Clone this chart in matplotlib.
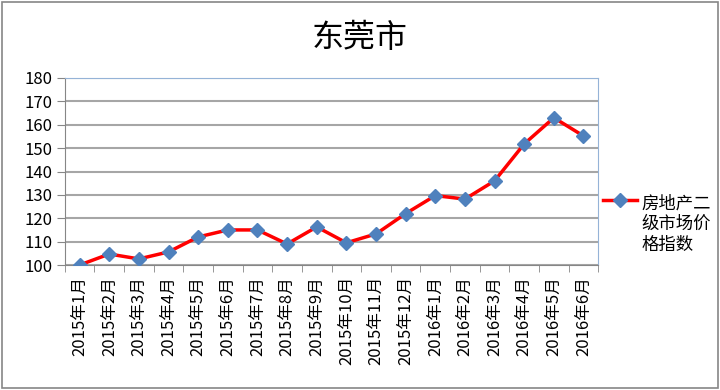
import numpy as np
import matplotlib.pyplot as plt
from matplotlib.patches import Rectangle

plt.rcParams['font.family'] = ['Noto Sans CJK SC', 'DejaVu Sans']

months = ['2015年1月', '2015年2月', '2015年3月', '2015年4月', '2015年5月', '2015年6月',
          '2015年7月', '2015年8月', '2015年9月', '2015年10月', '2015年11月', '2015年12月',
          '2016年1月', '2016年2月', '2016年3月', '2016年4月', '2016年5月', '2016年6月']
index_values = [100, 104.7, 102.6, 105.6, 112, 115, 115, 109, 116.3, 109.5, 113.3, 122,
                129.7, 128.2, 136, 151.8, 163, 155.2]
series_name = '房地产二\n级市场价\n格指数'
title = '东莞市'

fig = plt.figure(figsize=(7.2, 3.9), dpi=100)
ax = fig.add_axes([0.090, 0.3205, 0.741, 0.4795])

x = np.arange(len(months))
ax.plot(x, index_values, color='#FF0000', lw=2.5, marker='D', ms=7,
        markerfacecolor='#4F81BD', markeredgecolor='#4F81BD', label=series_name, zorder=3)

ax.set_xlim(-0.5, len(months) - 0.5)
ax.set_ylim(100, 180)
ax.set_yticks(range(100, 181, 10))
ax.yaxis.grid(True, color='#A6A6A6', lw=1.5)
ax.set_axisbelow(True)

ax.set_xticks(x)
ax.set_xticklabels(months, rotation=90, fontsize=12)
ax.tick_params(axis='x', length=0, pad=8)
ax.set_xticks(np.arange(-0.5, len(months)), minor=True)
ax.tick_params(axis='x', which='minor', length=5, color='#868686')
ax.tick_params(axis='y', labelsize=12, length=6, color='#868686', direction='out', pad=3)

for s in ['left', 'bottom']:
    ax.spines[s].set_color('#868686')
for s in ['top', 'right']:
    ax.spines[s].set_color('#95B3D7')

fig.text(0.5, 0.903, title, ha='center', va='center', fontsize=23)

leg = ax.legend(loc='center left', bbox_to_anchor=(0.995, 0.22), frameon=False,
                fontsize=12.5, handlelength=2.0, handletextpad=0.25, borderaxespad=0)
# put the legend line next to the first text line, like Excel does
for col in leg._legend_handle_box.get_children():
    for row in col.get_children():
        row.align = 'top'

fig.patches.append(Rectangle((0.003, 0.004), 0.994, 0.992, transform=fig.transFigure,
                             fill=False, edgecolor='#868686', lw=1.2))

fig.savefig('out.png', dpi=100)
